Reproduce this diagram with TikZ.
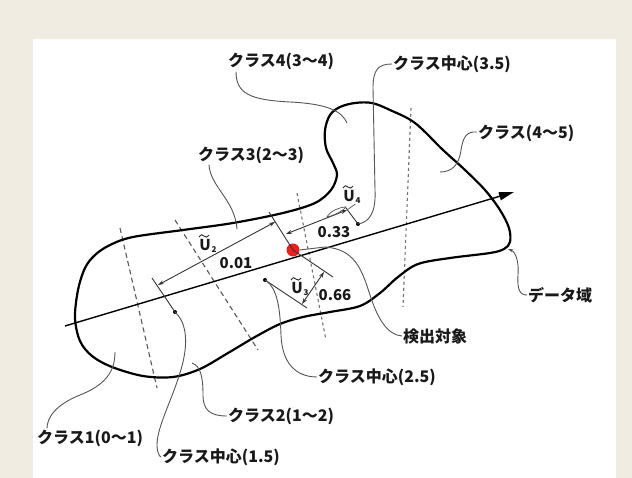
\documentclass[tikz,border=0pt]{standalone}
\usepackage{fontspec}
\newfontfamily\jp{Noto Sans CJK JP}
\usetikzlibrary{arrows.meta}
\definecolor{bgbeige}{HTML}{F0ECE2}
\definecolor{leadgray}{HTML}{555555}
\definecolor{dotred}{HTML}{E82020}
\begin{document}
\begin{tikzpicture}[x=1pt,y=-1pt,
  lab/.style={font=\jp\bfseries\fontsize{16pt}{17pt}\selectfont, text=black!90, inner sep=0pt, anchor=west},
  dimlab/.style={font=\jp\bfseries\fontsize{15pt}{16pt}\selectfont, text=black!90, inner sep=0pt},
  sublab/.style={font=\jp\bfseries\fontsize{8pt}{8pt}\selectfont, text=black!90, inner sep=0pt, anchor=west},
  tildeline/.style={line width=0.9pt, black!85},
  outline/.style={line width=2.2pt, black},
  leader/.style={line width=0.9pt, leadgray},
  bnd/.style={line width=1.1pt, black!65, dash pattern=on 5pt off 3.5pt},
  bndb/.style={line width=1.1pt, black!55, dash pattern=on 3pt off 3pt},
  dim/.style={line width=0.9pt, black!80},
  dimarr/.style={dim, {Stealth[length=6pt,width=4pt]}-{Stealth[length=6pt,width=4pt]}},
  cdot/.style={circle, fill=black, inner sep=0pt, minimum size=4pt},
]
\fill[bgbeige] (0,0) rectangle (632,478);
\fill[white] (33,39) rectangle (616,478);
\useasboundingbox (0,0) rectangle (632,478);

% boundaries
\draw[bnd] (120,228) -- (157,388);
\draw[bnd] (175,220) -- (258,350);
\draw[bndb] (297,193) -- (326,340);
\draw[bndb] (411,108) -- (403,307);

% data domain outline
\draw[outline] plot[smooth cycle, tension=0.55] coordinates {
 (75,318) (78,290) (85,268) (95,255) (110,245) (133,237) (183,230) (233,223)
 (283,213) (315,203) (331,190) (337,175) (333,163) (326,148) (325,130) (330,115)
 (340,107) (355,103) (372,103) (390,110) (415,123) (443,150) (465,170) (485,190)
 (500,210) (509,228) (510,242) (504,249) (490,253) (450,258) (418,264) (398,277)
 (380,293) (360,306) (330,312) (303,317) (280,324) (255,337) (228,353) (200,369)
 (173,377) (143,376) (112,367) (92,356) (80,341)};

% axis
\coordinate (axS) at (65,326);
\coordinate (axE) at (514,192);
\draw[line width=1.4pt, -{Triangle[length=15pt,width=8pt]}] (axS) -- (axE);

% points
\node[circle, fill=dotred, inner sep=0pt, minimum size=13pt] (obj) at (293,250) {};
\node[cdot] (c15) at (175,312) {};
\node[cdot] (c25) at (265,280) {};
\node[cdot] (c35) at (358,224) {};

% extension lines
\coordinate (e15) at (152,278);
\coordinate (eoU) at (269,212);
\coordinate (eoD) at (333,277);
\coordinate (e25) at (307,308);
\coordinate (e35) at (346,208);
\draw[dim] (e15) -- (c15.center);
\draw[dim] (eoU) -- (obj.center);
\draw[dim] (obj.center) -- (eoD);
\draw[dim] (c25.center) -- (e25);
\draw[dim] (c35.center) -- (e35);

% dimension lines
\coordinate (d2a) at (158,285); \coordinate (d2b) at (275,222);
\coordinate (d4a) at (286,234); \coordinate (d4b) at (347,210);
\coordinate (d3a) at (324,272); \coordinate (d3b) at (302,304);
\draw[dimarr] (d2a) -- (d2b);
\draw[dimarr] (d4a) -- (d4b);
\draw[dimarr] (d3a) -- (d3b);

% dimension labels (U with tilde, subscript)
\node[dimlab] (u2) at (205,245) {U};
\node[sublab] (u2s) at ([xshift=0.5pt,yshift=1pt]u2.south east) {2};
\draw[tildeline] ([xshift=0pt,yshift=2pt]u2.north west) .. controls +(2,-3) and +(-2,-2) .. +(5,-1) .. controls +(2,2) and +(-2,2) .. +(10,-2);
\node[dimlab] (v2) at (236,263) {0.01};

\node[dimlab] (u4) at (349,196) {U};
\node[sublab] (u4s) at ([xshift=0.5pt,yshift=1pt]u4.south east) {4};
\draw[tildeline] ([xshift=0pt,yshift=2pt]u4.north west) .. controls +(2,-3) and +(-2,-2) .. +(5,-1) .. controls +(2,2) and +(-2,2) .. +(10,-2);
\node[dimlab] (v4) at (334,232) {0.33};

\node[dimlab] (u3) at (297,288) {U};
\node[sublab] (u3s) at ([xshift=0.5pt,yshift=1pt]u3.south east) {3};
\draw[tildeline] ([xshift=0pt,yshift=2pt]u3.north west) .. controls +(2,-3) and +(-2,-2) .. +(5,-1) .. controls +(2,2) and +(-2,2) .. +(10,-2);
\node[dimlab] (v3) at (335,295) {0.66};

\draw[leader, line width=0.7pt] (u4s.south west) -- (d4b);
\draw[leader, line width=0.7pt] (327,217) .. controls (330,211) and (340,207) .. (346,207)
   .. controls (342,212) and (332,216) .. (327,217);

% labels
\node[lab] (L4)  at (228,61)  {クラス4(3〜4)};
\node[lab] (L35) at (393,64)  {クラス中心(3.5)};
\node[lab] (L45) at (478,133) {クラス(4〜5)};
\node[lab] (L3)  at (198,155) {クラス3(2〜3)};
\node[lab] (Ld)  at (528,295) {データ域};
\node[lab] (Lo)  at (403,336) {検出対象};
\node[lab] (L25) at (318,377) {クラス中心(2.5)};
\node[lab] (L2)  at (228,416) {クラス2(1〜2)};
\node[lab] (L1)  at (37,438)  {クラス1(0〜1)};
\node[lab] (L15) at (162,457) {クラス中心(1.5)};

% leader end points
\coordinate (p4) at (347,123);
\coordinate (p45) at (440,172);
\coordinate (p3) at (237,229);
\coordinate (pd) at (508,249);
\coordinate (p2) at (192,363);
\coordinate (p1) at (115,352);

% leaders
\draw[leader] ([xshift=8pt,yshift=-2pt]L4.south west) .. controls +(0,22) and (250,100) .. (290,102)
   .. controls (330,104) and (342,112) .. (p4);
\draw[leader] ([xshift=-1pt]L35.west) .. controls (378,64) and (373,70) .. (373,88)
   -- (375,190) .. controls (376,212) and (370,222) .. (c35.center);
\draw[leader] ([xshift=-1pt,yshift=1pt]L45.west) .. controls (466,131) and (463,138) .. (461,150)
   .. controls (459,165) and (452,172) .. (p45);
\draw[leader] ([xshift=11pt,yshift=-1pt]L3.south west) .. controls +(1,22) and (235,200) .. (p3);
\draw[leader, {Stealth[length=5pt,width=3.5pt]}-] (pd) .. controls (516,252) and (519,262) .. (518,275)
   .. controls (517,290) and (520,295) .. ([xshift=-1pt]Ld.west);
\draw[leader] (obj.east) -- (325,247) .. controls (355,249) and (362,270) .. (370,295)
   .. controls (378,320) and (388,335) .. ([xshift=-1pt]Lo.west);
\draw[leader] (c25.center) .. controls (278,288) and (280,310) .. (281,335)
   .. controls (282,362) and (295,377) .. ([xshift=-1pt]L25.west);
\draw[leader] (p2) .. controls (200,366) and (203,375) .. (203,395)
   .. controls (203,410) and (210,416) .. ([xshift=-1pt]L2.west);
\draw[leader] (p1) .. controls (115,372) and (105,385) .. (80,395)
   .. controls (55,405) and (47,418) .. ([xshift=10pt,yshift=1pt]L1.north west);
\draw[leader] (c15.center) .. controls (186,322) and (188,340) .. (183,362)
   .. controls (175,395) and (157,425) .. (157,445)
   .. controls (157,453) and (160,457) .. ([xshift=-1pt]L15.west);
\end{tikzpicture}
\end{document}
